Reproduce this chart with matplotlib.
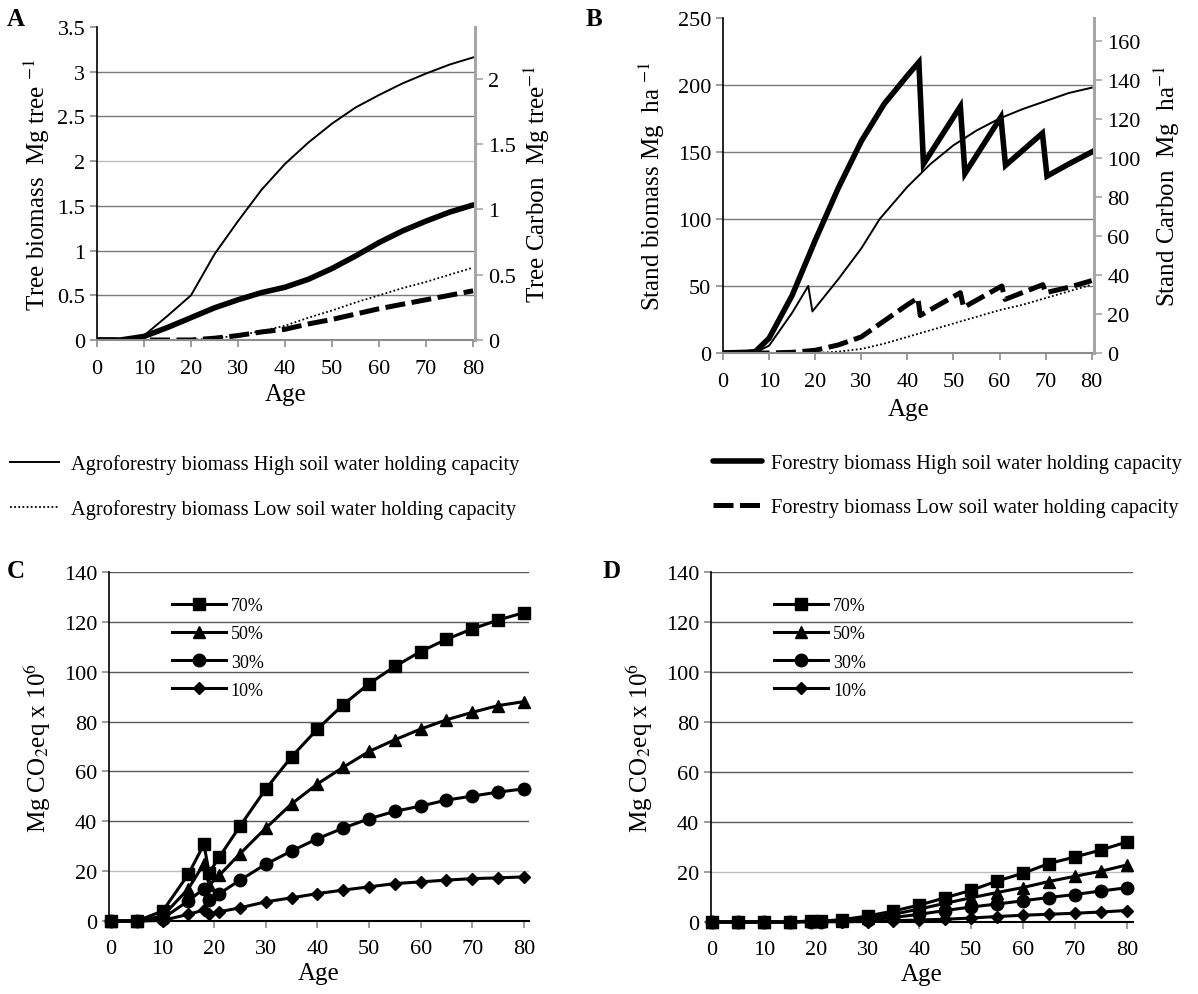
import matplotlib
matplotlib.use('Agg')
import matplotlib.pyplot as plt
import numpy as np
from matplotlib.ticker import FuncFormatter

plt.rcParams['font.family'] = ['Liberation Serif', 'DejaVu Serif']
plt.rcParams['mathtext.fontset'] = 'stix'

# ---------------- Panel A data ----------------
age_a = [0, 5, 10, 15, 20, 25, 30, 35, 40, 45, 50, 55, 60, 65, 70, 75, 80]
agro_high_a = [0, 0, 0.05, 0.27, 0.50, 0.96, 1.33, 1.68, 1.97, 2.21, 2.42, 2.60, 2.74, 2.87, 2.98, 3.08, 3.16]
forest_high_a = [0, 0, 0.04, 0.14, 0.25, 0.36, 0.45, 0.53, 0.59, 0.68, 0.80, 0.94, 1.09, 1.22, 1.33, 1.43, 1.51]
agro_low_a = [0, 0, 0, 0, 0, 0.02, 0.05, 0.10, 0.16, 0.25, 0.33, 0.42, 0.50, 0.58, 0.65, 0.73, 0.81]
forest_low_a = [0, 0, 0, 0, 0, 0.02, 0.05, 0.09, 0.12, 0.18, 0.23, 0.29, 0.35, 0.40, 0.45, 0.50, 0.55]

# ---------------- Panel B data ----------------
age_b_agro_high = [0, 5, 7, 10, 15, 18.5, 19.4, 25, 30, 34, 40, 45, 50, 55, 60, 65, 70, 75, 80]
agro_high_b = [0, 0, 0.3, 5.5, 30, 50, 31, 55, 78, 100, 124, 141, 155, 166, 175, 182, 188, 194, 198]
age_b_forest_high = [0, 5, 7, 10, 15, 20, 25, 30, 35, 40, 42.5, 43.5, 51.5, 52.5, 60.3, 61.3, 69.3, 70.3, 75, 80]
forest_high_b = [0, 0.5, 1, 11, 43, 84, 123, 158, 186, 207, 217, 141, 184, 134, 176, 140, 164, 132, 141, 150]
age_b_forest_low = [0, 10, 15, 20, 25, 30, 35, 40, 42.3, 42.8, 51.5, 52.2, 60.5, 61.2, 69.4, 70.0, 75, 80]
forest_low_b = [0, 0, 0.5, 2, 6, 12, 24, 36, 41, 28, 45, 34, 50, 40, 51, 45, 49, 54]
age_b_agro_low = [0, 5, 10, 15, 20, 25, 30, 35, 40, 45, 50, 55, 60, 65, 70, 75, 80]
agro_low_b = [0, 0, 0, 0, 0, 1, 3, 7, 12, 17, 22, 27, 32, 36, 41, 46, 51]

# ---------------- Panel C data ----------------
age_c = [0, 5, 10, 15, 18, 19, 21, 25, 30, 35, 40, 45, 50, 55, 60, 65, 70, 75, 80]
c70 = [0, 0, 4.0, 18.8, 30.8, 19.3, 25.7, 38.1, 53.0, 65.9, 77.0, 86.8, 95.2, 102.1, 108.1, 113.0, 117.2, 120.7, 123.7]
c50 = [0, 0, 2.0, 13.0, 23.0, 14.4, 18.4, 27.0, 37.3, 47.0, 55.0, 61.7, 68.0, 72.7, 77.0, 80.7, 83.7, 86.4, 88.0]
c30 = [0, 0, 1.0, 8.1, 13.0, 8.4, 11.0, 16.4, 22.8, 28.1, 33.0, 37.3, 41.0, 44.0, 46.1, 48.5, 50.1, 51.7, 53.0]
c10 = [0, 0, 0.2, 2.7, 4.4, 2.7, 3.7, 5.3, 7.7, 9.3, 11.0, 12.4, 13.7, 15.0, 15.7, 16.4, 17.0, 17.3, 17.7]

# ---------------- Panel D data ----------------
age_d = [0, 5, 10, 15, 19, 21, 25, 30, 35, 40, 45, 50, 55, 60, 65, 70, 75, 80]
d70 = [0, 0, 0, 0, 0.4, 0.4, 0.9, 2.4, 4.4, 6.8, 9.7, 12.7, 16.4, 19.5, 23.4, 26.0, 28.8, 32.0]
d50 = [0, 0, 0, 0, 0.3, 0.3, 0.5, 1.6, 3.1, 5.2, 7.5, 9.7, 11.8, 13.8, 16.2, 18.3, 20.3, 22.8]
d30 = [0, 0, 0, 0, 0.2, 0.2, 0.3, 0.8, 1.8, 3.1, 4.6, 6.0, 7.2, 8.5, 9.8, 11.0, 12.4, 13.7]
d10 = [0, 0, 0, 0, 0.1, 0.1, 0.1, 0.2, 0.5, 0.8, 1.1, 1.6, 2.2, 2.7, 3.1, 3.5, 4.0, 4.6]

pct_labels = ['70%', '50%', '30%', '10%']
legend_labels = ['Agroforestry biomass High soil water holding capacity',
                 'Agroforestry biomass Low soil water holding capacity',
                 'Forestry biomass High soil water holding capacity',
                 'Forestry biomass Low soil water holding capacity']
x_ticks = [0, 10, 20, 30, 40, 50, 60, 70, 80]

TICK_FS = 16
LAB_FS = 18
GRID = '#7a7a7a'
AXGRAY = '#8c8c8c'

fmt = FuncFormatter(lambda v, p: '%g' % v)

W, H = 1198, 995
def rect(l, t, r, b):
    return [l / W, 1 - b / H, (r - l) / W, (b - t) / H]

fig = plt.figure(figsize=(W / 100, H / 100), dpi=100)


def style_axis(ax, xpad=6):
    for s in ['top', 'right']:
        ax.spines[s].set_visible(False)
    ax.spines['left'].set_color('black')
    ax.spines['left'].set_linewidth(1.2)
    ax.spines['bottom'].set_color(AXGRAY)
    ax.spines['bottom'].set_linewidth(1.5)
    ax.tick_params(axis='both', labelsize=TICK_FS, colors=AXGRAY, labelcolor='black',
                   length=5, width=1.2, direction='out')
    ax.tick_params(axis='x', pad=xpad)
    ax.yaxis.grid(True, color=GRID, lw=1.0)
    ax.set_axisbelow(True)
    ax.yaxis.set_major_formatter(fmt)
    ax.set_xticks(x_ticks)


def tune_grid(ax, light_vals=(), hide_vals=()):
    ticks = ax.get_yticks()
    for gl, t in zip(ax.get_ygridlines(), ticks):
        if any(abs(t - v) < 1e-9 for v in light_vals):
            gl.set_color('#bdbdbd')
        if any(abs(t - v) < 1e-9 for v in hide_vals):
            gl.set_visible(False)


# ================= Panel A =================
axA = fig.add_axes(rect(97, 28, 475, 341))
style_axis(axA, xpad=9)
axA.set_xlim(0, 80.4)
axA.set_ylim(0, 3.5)
axA.set_yticks(np.arange(0, 3.51, 0.5))
tune_grid(axA, light_vals=(2.0,), hide_vals=(0.0, 3.5))
la1, = axA.plot(age_a, agro_high_a, color='black', lw=1.4, label=legend_labels[0])
la3, = axA.plot(age_a, forest_high_a, color='black', lw=4.0, solid_capstyle='round', label=legend_labels[2])
la2, = axA.plot(age_a, agro_low_a, color='black', lw=1.3, ls=(0, (1, 1.3)), label=legend_labels[1])
la4, = axA.plot(age_a, forest_low_a, color='black', lw=3.6, ls=(0, (4, 1.3)), label=legend_labels[3])
axA.set_xlabel('Age', fontsize=LAB_FS, labelpad=3)
axA.set_ylabel('Tree biomass  Mg tree $^{-1}$', fontsize=LAB_FS, labelpad=4)

axA2 = axA.twinx()
axA2.set_ylim(0, 2.395)
axA2.set_yticks([0, 0.5, 1, 1.5, 2])
axA2.yaxis.set_major_formatter(fmt)
for s in ['top', 'left', 'bottom']:
    axA2.spines[s].set_visible(False)
axA2.spines['right'].set_color('#a6a6a6')
axA2.spines['right'].set_linewidth(2.2)
axA2.tick_params(axis='y', labelsize=TICK_FS, colors='#a6a6a6', labelcolor='black', length=6, width=1.2)
axA2.set_ylabel('Tree Carbon  Mg tree$^{-1}$', fontsize=LAB_FS, labelpad=4)

# ================= Panel B =================
axB = fig.add_axes(rect(723, 19, 1094, 354))
style_axis(axB, xpad=9)
axB.set_xlim(0, 80.5)
axB.set_ylim(0, 250)
axB.set_yticks(np.arange(0, 251, 50))
tune_grid(axB, hide_vals=(0, 250))
axB.plot(age_b_agro_high, agro_high_b, color='black', lw=1.4)
axB.plot(age_b_forest_high, forest_high_b, color='black', lw=4.0, solid_joinstyle='miter')
axB.plot(age_b_agro_low, agro_low_b, color='black', lw=1.3, ls=(0, (1, 1.3)))
axB.plot(age_b_forest_low, forest_low_b, color='black', lw=3.6, ls=(0, (4, 1.3)))
axB.set_xlabel('Age', fontsize=LAB_FS, labelpad=5)
axB.set_ylabel('Stand biomass Mg  ha $^{-1}$', fontsize=LAB_FS, labelpad=8)

axB2 = axB.twinx()
axB2.set_ylim(0, 172)
axB2.set_yticks(np.arange(0, 161, 20))
for s in ['top', 'left', 'bottom']:
    axB2.spines[s].set_visible(False)
axB2.spines['right'].set_color('#a6a6a6')
axB2.spines['right'].set_linewidth(2.2)
axB2.tick_params(axis='y', labelsize=TICK_FS, colors='#a6a6a6', labelcolor='black', length=6, width=1.2)
axB2.set_ylabel('Stand Carbon  Mg  ha$^{-1}$', fontsize=LAB_FS, labelpad=8)

# ================= Main legend =================
fig.legend(handles=[la1, la2], loc='upper left', bbox_to_anchor=(10 / W, 1 - 455 / H),
           frameon=False, fontsize=14.7, handlelength=2.4, handletextpad=0.6,
           labelspacing=1.22, borderpad=0, borderaxespad=0)
fig.legend(handles=[la3, la4], loc='upper left', bbox_to_anchor=(713 / W, 1 - 455 / H),
           frameon=False, fontsize=14.7, handlelength=2.4, handletextpad=0.45,
           labelspacing=1.22, borderpad=0, borderaxespad=0)

# ================= Panels C & D =================
def co2_panel(ax, ages, series, xmin, xmax):
    style_axis(ax, xpad=8)
    ax.spines['bottom'].set_color('black')
    ax.set_xlim(xmin, xmax)
    ax.set_ylim(0, 140)
    ax.set_yticks(np.arange(0, 141, 20))
    tune_grid(ax, light_vals=(20,), hide_vals=(0,))
    for g in ax.get_ygridlines():
        if g.get_color() != '#bdbdbd':
            g.set_color('#5a5a5a')
    markers = [('s', 9), ('^', 9), ('o', 9), ('D', 6.5)]
    handles = []
    for vals, (m, ms), lab in zip(series, markers, pct_labels):
        h, = ax.plot(ages, vals, color='black', lw=2.2, marker=m, ms=ms,
                     markerfacecolor='black', markeredgecolor='black', label=lab,
                     clip_on=False)
        handles.append(h)
    ax.legend(handles=handles, loc='upper left', bbox_to_anchor=(0.15, 0.928),
              frameon=False, fontsize=13, handlelength=3.0, handletextpad=0.25,
              labelspacing=0.62, borderpad=0, borderaxespad=0, numpoints=1)
    ax.set_xlabel('Age', fontsize=LAB_FS, labelpad=3)
    ax.set_ylabel('Mg CO$_2$eq x 10$^6$', fontsize=LAB_FS, labelpad=8)


axC = fig.add_axes(rect(109, 573, 529, 922))
co2_panel(axC, age_c, [c70, c50, c30, c10], -0.4, 81.0)

axD = fig.add_axes(rect(711, 573, 1133, 923))
co2_panel(axD, age_d, [d70, d50, d30, d10], -0.2, 81.2)

# panel letters
for letter, (x, y) in zip(['A', 'B', 'C', 'D'], [(16, 20), (594, 20), (16, 572), (612, 572)]):
    fig.text(x / W, 1 - y / H, letter, fontsize=18, fontweight='bold', ha='center', va='center')

fig.savefig('out.png', dpi=100)
